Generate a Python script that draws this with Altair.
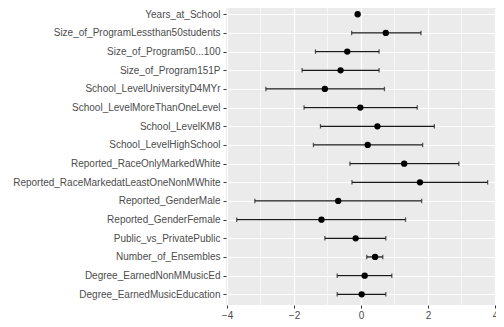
import altair as alt
import pandas as pd

terms = [
    "Years_at_School",
    "Size_of_ProgramLessthan50students",
    "Size_of_Program50...100",
    "Size_of_Program151P",
    "School_LevelUniversityD4MYr",
    "School_LevelMoreThanOneLevel",
    "School_LevelKM8",
    "School_LevelHighSchool",
    "Reported_RaceOnlyMarkedWhite",
    "Reported_RaceMarkedatLeastOneNonMWhite",
    "Reported_GenderMale",
    "Reported_GenderFemale",
    "Public_vs_PrivatePublic",
    "Number_of_Ensembles",
    "Degree_EarnedNonMMusicEd",
    "Degree_EarnedMusicEducation",
]
estimate = [-0.10, 0.74, -0.41, -0.61, -1.08, -0.02, 0.49, 0.20,
            1.29, 1.76, -0.68, -1.18, -0.16, 0.42, 0.11, 0.02]
lower = [-0.14, -0.28, -1.36, -1.76, -2.84, -1.70, -1.21, -1.42,
         -0.33, -0.27, -3.17, -3.71, -1.08, 0.17, -0.71, -0.71]
upper = [-0.06, 1.79, 0.54, 0.54, 0.70, 1.68, 2.19, 1.84,
         2.92, 3.78, 1.81, 1.33, 0.74, 0.65, 0.92, 0.74]
minor_breaks = [-3, -1, 1, 3]
major_breaks = [-4, -2, 0, 2, 4]

df = pd.DataFrame({"term": terms, "estimate": estimate, "lower": lower, "upper": upper})
minor_df = pd.DataFrame({"v": minor_breaks})

FONT = "Liberation Sans"
xscale = alt.Scale(domain=[-4.03, 4.03], nice=False, zero=False)
yscale = alt.Scale(type="point", padding=0.455, align=0.37)

xax = alt.Axis(values=major_breaks, title=None, grid=True, gridColor="white",
               gridWidth=1.2, domain=False, tickColor="#333333", tickSize=3,
               tickWidth=1, labelColor="#4d4d4d", labelFontSize=10, labelFont=FONT,
               labelPadding=2, format="d")
yax = alt.Axis(title=None, grid=True, gridColor="white", gridWidth=1.2, domain=False,
               tickColor="#333333", tickSize=3, tickWidth=1, labelColor="#4d4d4d",
               labelFontSize=10, labelFont=FONT, labelPadding=3, labelLimit=300)

ycode = alt.Y("term:N", sort=terms, scale=yscale, axis=yax)

minor = alt.Chart(minor_df).mark_rule(color="white", strokeWidth=0.6).encode(
    x=alt.X("v:Q", scale=xscale, axis=xax)
)

rules = alt.Chart(df).mark_rule(color="#1a1a1a", strokeWidth=1.3).encode(
    x=alt.X("lower:Q", scale=xscale, axis=xax),
    x2="upper:Q",
    y=ycode,
)
cap_lo = alt.Chart(df).mark_tick(color="#1a1a1a", size=4.5, thickness=1.3).encode(
    x=alt.X("lower:Q", scale=xscale), y=alt.Y("term:N", sort=terms, scale=yscale)
)
cap_hi = alt.Chart(df).mark_tick(color="#1a1a1a", size=4.5, thickness=1.3).encode(
    x=alt.X("upper:Q", scale=xscale), y=alt.Y("term:N", sort=terms, scale=yscale)
)
points = alt.Chart(df).mark_circle(color="black", size=40, opacity=1).encode(
    x=alt.X("estimate:Q", scale=xscale), y=alt.Y("term:N", sort=terms, scale=yscale)
)

chart = (
    alt.layer(minor, rules, cap_lo, cap_hi, points)
    .properties(
        width=270,
        height=297,
        autosize=alt.AutoSizeParams(type="none"),
        padding={"left": 218, "top": 0, "right": 0, "bottom": 16},
    )
    .configure(background="white")
    .configure_view(fill="#ebebeb", strokeWidth=0)
)

chart.save("out.html", embed_options={"renderer": "svg", "actions": False})
